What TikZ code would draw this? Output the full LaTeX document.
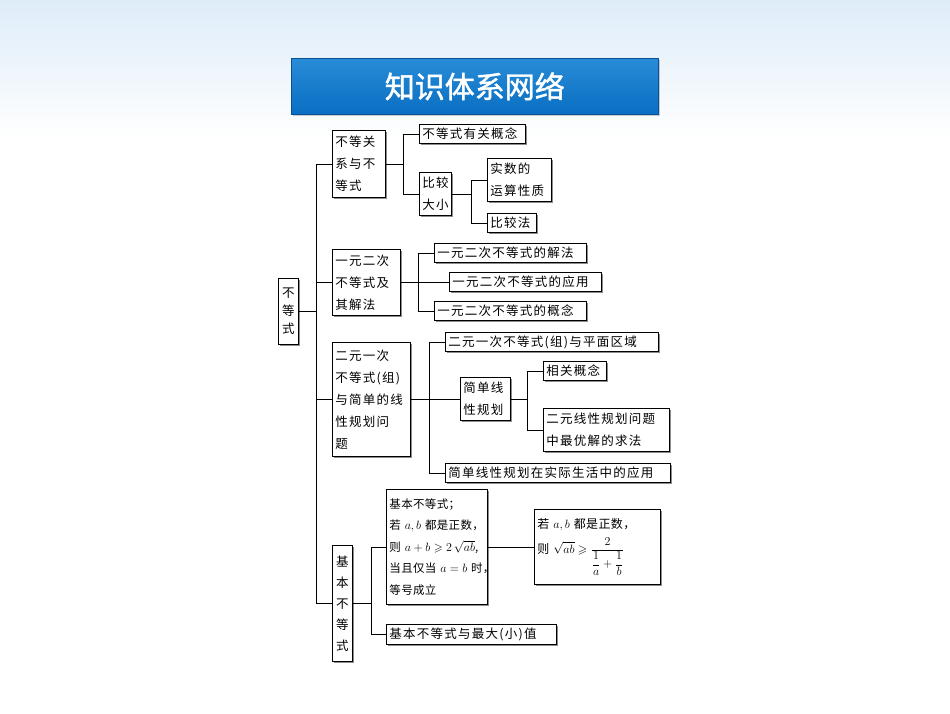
\documentclass[tikz,border=0pt]{standalone}
\usepackage{amsmath,amssymb}
\usepackage{fontspec}
\newfontfamily\cjk[LetterSpace=10]{Noto Sans CJK SC}
\newfontfamily\cjkn[LetterSpace=3]{Noto Sans CJK SC}
\newfontfamily\cjkt[FakeBold=1.5]{Noto Sans CJK SC}
\usetikzlibrary{shadows}
\definecolor{bgtop}{RGB}{222,236,248}
\begin{document}
\begin{tikzpicture}[x=1pt,y=-1pt,
  bx/.style={draw=black,line width=0.9pt,fill=white,anchor=north west,inner sep=2.5pt,
    font=\cjk\fontsize{12.5}{22}\selectfont,
    drop shadow={shadow xshift=1.5pt,shadow yshift=-1.5pt,fill=black!45,opacity=1}},
  w/.style={text width=#1-6pt,minimum width=#1,align=left},
  ln/.style={line width=0.8pt,black}]
\useasboundingbox (0,0) rectangle (950,713);
\shade[top color=bgtop,bottom color=white] (0,0) rectangle (950,140);
\fill[white] (0,140) rectangle (950,713);
% title
\node[top color={rgb,255:red,40;green,140;blue,215},bottom color={rgb,255:red,10;green,110;blue,195},draw={rgb,255:red,10;green,80;blue,150},line width=0.6pt,
  minimum width=367pt,minimum height=56pt,anchor=north west,text=white,
  font=\cjkt\fontsize{30}{34}\selectfont,
  drop shadow={shadow xshift=1.5pt,shadow yshift=-2pt,fill=black!40}] (title) at (291,58) {知识体系网络};
% root
\node[bx,minimum width=20pt,minimum height=66pt,inner sep=1pt,align=center] (root) at (278,278) {不\\[-4pt]等\\[-4pt]式};
% level 1
\node[bx,w=53pt,minimum height=67pt] (A1) at (332,130) {不等关\\系与不\\等式};
\node[bx,w=68pt,minimum height=66pt] (A2) at (332,249) {一元二次\\不等式及\\其解法};
\node[bx,w=78pt,minimum height=114pt] (A3) at (332,342) {二元一次\\不等式(组)\\与简单的线\\性规划问\\题};
\node[bx,minimum width=20pt,minimum height=116pt,inner sep=1pt,align=center] (A4) at (332,545) {基\\[-1pt]本\\[-1pt]不\\[-1pt]等\\[-1pt]式};
% A1 children
\node[bx,w=106pt,minimum height=19pt,inner sep=1.5pt] (B1) at (419,124) {不等式有关概念};
\node[bx,w=32pt,minimum height=43pt,inner sep=1.5pt] (B2) at (419,172) {比较\\大小};
\node[bx,w=64pt,minimum height=43pt,inner sep=1.5pt] (C1) at (487,158) {实数的\\运算性质};
\node[bx,w=49pt,minimum height=19pt,inner sep=1.5pt] (C2) at (487,213) {比较法};
% A2 children
\node[bx,w=152pt,minimum height=19pt,inner sep=1.5pt] (D1) at (434,243) {一元二次不等式的解法};
\node[bx,w=152pt,minimum height=19pt,inner sep=1.5pt] (D2) at (449,272) {一元二次不等式的应用};
\node[bx,w=152pt,minimum height=19pt,inner sep=1.5pt] (D3) at (434,301) {一元二次不等式的概念};
% A3 children
\node[bx,w=213pt,minimum height=19pt,inner sep=1.5pt] (E1) at (445,332) {二元一次不等式(组)与平面区域};
\node[bx,w=50pt,minimum height=43pt,inner sep=1.5pt] (E2) at (460,377) {简单线\\性规划};
\node[bx,w=225pt,minimum height=19pt,inner sep=1.5pt] (E3) at (445,463) {简单线性规划在实际生活中的应用};
\node[bx,w=63pt,minimum height=19pt,inner sep=1.5pt] (F1) at (543,361) {相关概念};
\node[bx,w=126pt,minimum height=43pt,inner sep=1.5pt] (F2) at (543,408) {二元线性规划问题\\中最优解的求法};
% A4 children
\node[bx,w=101pt,minimum height=115pt,inner sep=2pt,font=\cjkn\fontsize{11.5}{21.5}\selectfont] (G1) at (386,489)
  {\mbox{基本不等式；}\\\mbox{若 $a,b$ 都是正数，}\\\mbox{则 $a+b\geqslant 2\,\sqrt{ab}$,}\\\mbox{当且仅当 $a=b$ 时，}\\\mbox{等号成立}};
\node[bx,w=170pt,minimum height=20pt,inner sep=1.5pt] (G2) at (386,624) {基本不等式与最大(小)值};
\node[bx,w=126pt,minimum height=75pt,inner sep=3pt,font=\cjkn\fontsize{12}{18}\selectfont] (H1) at (534,509)
  {\mbox{若 $a,b$ 都是正数，}\\[6pt]\mbox{则 $\displaystyle\sqrt{ab}\geqslant\frac{2}{\dfrac{1}{a}+\dfrac{1}{b}}$}};
% connectors
\draw[ln] (root.east) -- ++(17,0) coordinate (s0);
\foreach \n in {A1,A2,A3,A4} \draw[ln] (s0) |- (\n.west);
\draw[ln] (A1.east) -- ++(17,0) coordinate (s1);
\draw[ln] (s1) |- (B1.west); \draw[ln] (s1) |- (B2.west);
\draw[ln] (B2.east) -- ++(19,0) coordinate (s2);
\draw[ln] (s2) |- (C1.west); \draw[ln] (s2) |- (C2.west);
\draw[ln] (A2.east) -- ++(17,0) coordinate (s3);
\foreach \n in {D1,D2,D3} \draw[ln] (s3) |- (\n.west);
\draw[ln] (A3.east) -- ++(18,0) coordinate (s4);
\foreach \n in {E1,E2,E3} \draw[ln] (s4) |- (\n.west);
\draw[ln] (E2.east) -- ++(16,0) coordinate (s5);
\draw[ln] (s5) |- (F1.west); \draw[ln] (s5) |- (F2.west);
\draw[ln] (A4.east) -- ++(18,0) coordinate (s6);
\draw[ln] (s6) |- (G1.west); \draw[ln] (s6) |- (G2.west);
\draw[ln] (G1.east) -- (H1.west |- G1.east);
\end{tikzpicture}
\end{document}
